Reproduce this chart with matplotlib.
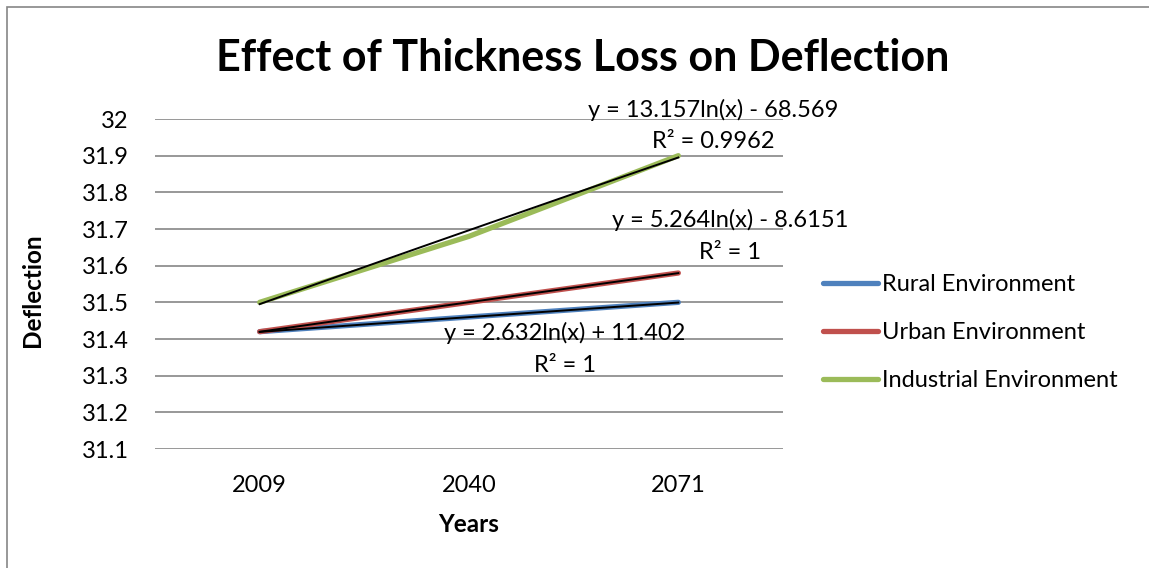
import numpy as np
import matplotlib.pyplot as plt
from matplotlib.patches import Rectangle

years = [2009, 2040, 2071]
rural = [31.42, 31.46, 31.50]
urban = [31.42, 31.50, 31.58]
industrial = [31.50, 31.68, 31.90]

# logarithmic trendline coefficients (a*ln(x) + b) and R^2 as printed
trend_rural = (2.632, 11.402, "1")
trend_urban = (5.264, -8.6151, "1")
trend_industrial = (13.157, -68.569, "0.9962")

plt.rcParams['font.family'] = ['Lato', 'DejaVu Sans']

fig = plt.figure(figsize=(11.49, 5.68), dpi=100)
ax = fig.add_axes([155 / 1149, 1 - 449 / 568, 628 / 1149, 330 / 568])

fig.patches.append(Rectangle((7 / 1149, -0.01), 1.02, 1 - 7 / 568 + 0.01, transform=fig.transFigure,
                             fill=False, edgecolor='#868686', linewidth=1.2))

pos = np.arange(len(years))
series = [
    ("Rural Environment", rural, '#4F81BD', trend_rural),
    ("Urban Environment", urban, '#C0504D', trend_urban),
    ("Industrial Environment", industrial, '#9BBB59', trend_industrial),
]

for name, vals, col, _ in series:
    ax.plot(pos, vals, color=col, linewidth=3.8, solid_capstyle='round', label=name, zorder=3)

# trendlines, evaluated from the equations over the year range
yr = np.linspace(years[0], years[-1], 60)
px = np.interp(yr, years, pos)
for name, vals, col, (a, b, r2) in series:
    ax.plot(px, a * np.log(yr) + b, color='black', linewidth=1.4, zorder=4)

def fmt_eq(a, b):
    sign = '+' if b >= 0 else '-'
    return f"y = {a:g}ln(x) {sign} {abs(b):g}"

label_pos = {
    "Industrial Environment": (713, 110),
    "Urban Environment": (730, 220),
    "Rural Environment": (565, 333),
}
for name, vals, col, (a, b, r2) in series:
    xp, yp = label_pos[name]
    fig.text(xp / 1149, 1 - yp / 568, fmt_eq(a, b), ha='center', va='center', fontsize=17)
    fig.text(xp / 1149, 1 - (yp + 32) / 568, f"R² = {r2}", ha='center', va='center', fontsize=17)

ax.set_xlim(-0.5, 2.5)
ax.set_ylim(31.1, 32.0)
ticks = np.round(np.arange(31.1, 32.01, 0.1), 1)
ax.set_yticks(ticks)
ax.set_yticklabels([f"{v:g}" for v in ticks])
ax.set_xticks(pos)
ax.set_xticklabels([str(y) for y in years])
ax.tick_params(axis='both', length=0, labelsize=17, colors='black')
ax.tick_params(axis='y', pad=19)
ax.tick_params(axis='x', pad=19)
ax.grid(axis='y', color='#868686', linewidth=1.2)
ax.set_axisbelow(True)
for s in ax.spines.values():
    s.set_visible(False)

fig.text(583 / 1149, 1 - 58 / 568, "Effect of Thickness Loss on Deflection",
         ha='center', va='center', fontsize=31, fontweight='bold')
fig.text(33 / 1149, 1 - 290 / 568, "Deflection", ha='center', va='center',
         rotation=90, fontsize=17.5, fontweight='bold')
fig.text(469 / 1149, 1 - 524 / 568, "Years", ha='center', va='center',
         fontsize=17.5, fontweight='bold')

leg = ax.legend(loc='upper left', bbox_to_anchor=(811 / 1149, 1 - 262 / 568),
                bbox_transform=fig.transFigure, frameon=False, fontsize=17,
                handlelength=2.35, handletextpad=0.15, labelspacing=1.15, borderpad=0)

fig.savefig("out.png", dpi=100)
